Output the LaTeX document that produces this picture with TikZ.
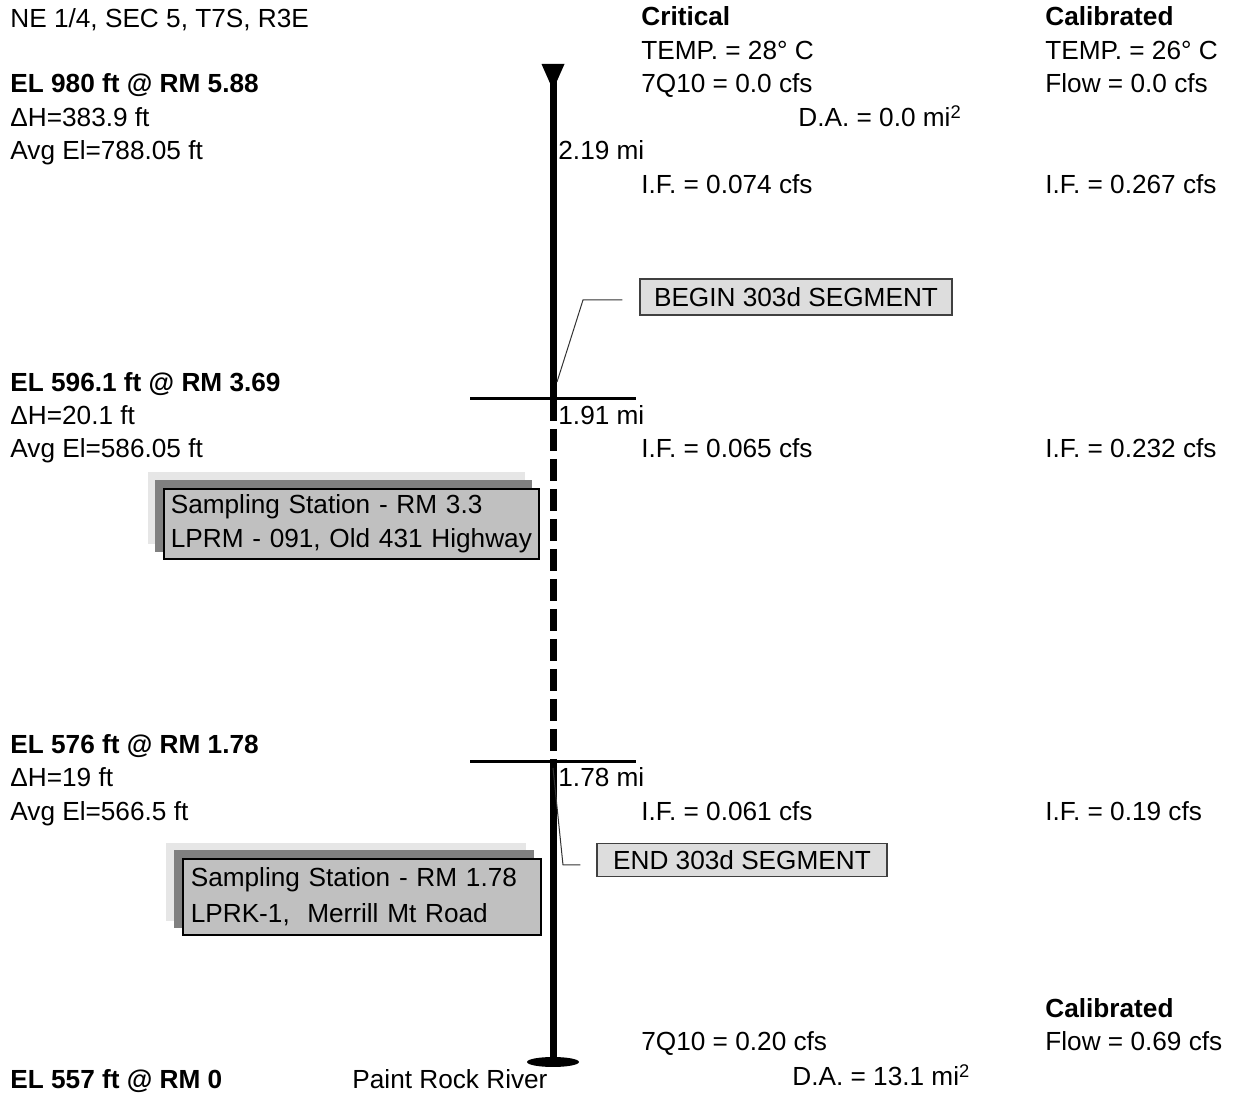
\documentclass[tikz,border=0pt]{standalone}
\usepackage{fontspec}
\setmainfont{Liberation Sans}
\usetikzlibrary{positioning,backgrounds}
\definecolor{shlt}{HTML}{E6E6E6}
\definecolor{shdk}{HTML}{808080}
\definecolor{stnfill}{HTML}{C0C0C0}
\definecolor{segfill}{HTML}{DDDDDD}

\begin{document}
\begin{tikzpicture}[x=0.5pt,y=-0.5pt,
  font=\fontsize{13.1}{16.8}\selectfont,
  txt/.style={anchor=base west,inner sep=0pt},
  hd/.style={txt,font=\fontsize{13.1}{16.8}\selectfont\bfseries},
  seg/.style={draw=black!75,fill=segfill,line width=0.6pt,inner sep=0pt},
  stn/.style={draw=black,fill=stnfill,line width=0.8pt,anchor=north west,
              align=left,inner ysep=0pt},
  river/.style={line width=3.5pt},
  tick/.style={line width=1.5pt},
  lead/.style={line width=0.5pt,draw=black!80}]
\useasboundingbox (0,0) rectangle (1238,1095);
\def\L{10}\def\M{558}\def\C{641}\def\K{1045}
% river profile
\coordinate (src) at (553,66); \coordinate (rm369) at (553,399);
\coordinate (rm178) at (553,762); \coordinate (mouth) at (553,1062);
\fill (src) ++(-11.5,-2) -- ++(23,0) -- ++(-11.5,26) -- cycle;
\draw[river] (src) -- (rm369);
\draw[river,dash pattern=on 11pt off 4pt] (rm369) -- (rm178);
\draw[river] (rm178) -- (mouth);
\fill (mouth) ellipse [x radius=13pt,y radius=2.5pt];
\draw[tick] ([xshift=-41.5pt]rm369) -- ([xshift=41.5pt]rm369);
\draw[tick] ([xshift=-41.5pt]rm178) -- ([xshift=41.5pt]rm178);

% left column
\node[txt](loc) at (\L,28){NE 1/4, SEC 5, T7S, R3E};
\node[hd](el1) at (\L,93){EL 980 ft @ RM 5.88};
\node[txt](dh1) at (\L,127){ΔH=383.9 ft};
\node[txt](av1) at (\L,160){Avg El=788.05 ft};
\node[hd](el2) at (\L,392){EL 596.1 ft @ RM 3.69};
\node[txt](dh2) at (\L,425){ΔH=20.1 ft};
\node[txt](av2) at (\L,458){Avg El=586.05 ft};
\node[hd](el3) at (\L,754){EL 576 ft @ RM 1.78};
\node[txt](dh3) at (\L,787){ΔH=19 ft};
\node[txt](av3) at (\L,821){Avg El=566.5 ft};
\node[hd](el4) at (\L,1088){EL 557 ft @ RM 0};
\node[txt](name) at (352,1088){Paint Rock River};

% reach lengths
\node[txt](mi1) at (\M,160){2.19 mi};
\node[txt](mi2) at (\M,425){1.91 mi};
\node[txt](mi3) at (\M,787){1.78 mi};

% critical / calibrated
\node[hd](crit) at (\C,26){Critical};
\node[txt](ctemp) at (\C,60){TEMP. = 28° C};
\node[txt](cq) at (\C,93){7Q10 = 0.0 cfs};
\node[txt](da1) at (798,127){D.A. = 0.0 mi\textsuperscript{2}};
\node[txt](cif1) at (\C,194){I.F. = 0.074 cfs};
\node[txt](cif2) at (\C,458){I.F. = 0.065 cfs};
\node[txt](cif3) at (\C,821){I.F. = 0.061 cfs};
\node[txt](cq2) at (\C,1051){7Q10 = 0.20 cfs};
\node[txt](da2) at (792,1086){D.A. = 13.1 mi\textsuperscript{2}};
\node[hd](cal) at (\K,26){Calibrated};
\node[txt](ktemp) at (\K,60){TEMP. = 26° C};
\node[txt](kq) at (\K,93){Flow = 0.0 cfs};
\node[txt](kif1) at (\K,194){I.F. = 0.267 cfs};
\node[txt](kif2) at (\K,458){I.F. = 0.232 cfs};
\node[txt](kif3) at (\K,821){I.F. = 0.19 cfs};
\node[hd](cal2) at (\K,1018){Calibrated};
\node[txt](kq2) at (\K,1051){Flow = 0.69 cfs};

% 303d segment callouts
\node[seg,minimum width=156pt,minimum height=18pt](bgnseg) at (796,297){BEGIN 303d SEGMENT};
\node[seg,minimum width=145pt,minimum height=16.5pt](endseg) at (742,860){END 303d SEGMENT};
\coordinate (bgnfoot) at (557,382); \coordinate (endfoot) at (553,768);
\draw[lead] (bgnfoot) -- ++(26,-82) -- ([xshift=-8.5pt,yshift=-1.5pt]bgnseg.west);
\draw[lead] (endfoot) -- ++(10,97) -- ([xshift=-8pt,yshift=-2.5pt]endseg.west);

% sampling stations
\node[stn,inner xsep=3.5pt,minimum width=187.5pt,minimum height=35pt,text width=180.5pt]
  (stn1) at (163,488){\mbox{Sampling Station - RM 3.3}\\\mbox{LPRM - 091, Old 431 Highway}};
\node[stn,inner xsep=4pt,minimum width=179pt,minimum height=38pt,text width=171pt]
  (stn2) at (182,858){\mbox{Sampling Station - RM 1.78}\\[1pt]\mbox{LPRK-1, \ Merrill Mt Road}};
\begin{scope}[on background layer]
\fill[shlt] ([shift={(-15,-16)}]stn1.north west) rectangle ([shift={(-15,-16)}]stn1.south east);
\fill[shdk] ([shift={(-8,-8)}]stn1.north west) rectangle ([shift={(-8,-8)}]stn1.south east);
\fill[shlt] ([shift={(-16,-15)}]stn2.north west) rectangle ([shift={(-16,-15)}]stn2.south east);
\fill[shdk] ([shift={(-8,-8)}]stn2.north west) rectangle ([shift={(-8,-8)}]stn2.south east);
\end{scope}
\end{tikzpicture}
\end{document}
